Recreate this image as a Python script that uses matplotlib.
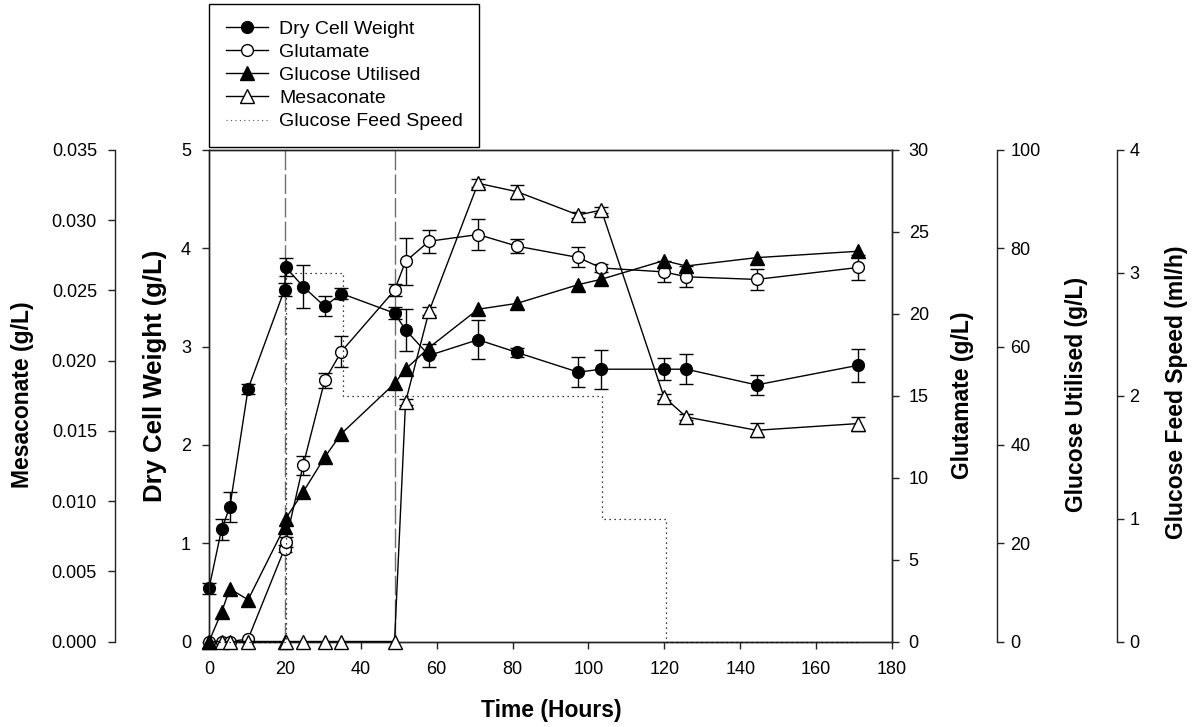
import numpy as np
import matplotlib
matplotlib.use("Agg")
from matplotlib import pyplot as plt
from matplotlib.lines import Line2D

plt.rcParams['font.family'] = ['Liberation Sans', 'DejaVu Sans']

# sampling times (hours)
time_h = [0, 3.3, 5.5, 10.3, 19.9, 20.2, 24.8, 30.5, 34.9, 48.9, 51.8, 58, 70.9, 81.2,
          97.3, 103.4, 119.9, 125.8, 144.3, 171.1]

dcw = [0.54, 1.14, 1.37, 2.57, 3.58, 3.81, 3.61, 3.41, 3.54, 3.34, 3.17, 2.91, 3.07, 2.94,
       2.74, 2.77, 2.77, 2.77, 2.61, 2.81]
dcw_err = [0.06, 0.11, 0.15, 0.05, 0.07, 0.09, 0.22, 0.10, 0.06, 0.06, 0.21, 0.12, 0.20, 0.05,
           0.15, 0.20, 0.11, 0.15, 0.10, 0.17]

glutamate = [0, 0, 0, 0.15, 5.66, 6.07, 10.75, 15.94, 17.7, 21.44, 23.2, 24.43, 24.84, 24.13,
             23.44, 22.8, 22.56, 22.26, 22.1, 22.83]
glutamate_err = [0, 0, 0, 0, 0.2, 0.3, 0.56, 0.46, 0.92, 0.36, 1.45, 0.69, 0.92, 0.44,
                 0.61, 0.25, 0.64, 0.64, 0.63, 0.78]

glucose = [0, 5.97, 10.73, 8.49, 23.28, 24.99, 30.4, 37.5, 42.3, 52.5, 55.4, 59.8, 67.6, 68.8,
           72.6, 73.7, 77.5, 76.4, 78.1, 79.4]

mesaconate = [0, 0, 0, 0, 0, 0, 0, 0, 0, 0, 0.01706, 0.02352, 0.03263, 0.03203,
              0.03037, 0.03072, 0.01741, 0.01599, 0.01504, 0.01552]
mesaconate_err = [0, 0, 0, 0, 0, 0, 0, 0, 0, 0, 0.0002, 0.0003, 0.0003, 0.0005,
                  0.0002, 0.0002, 0.0002, 0.0002, 0.0005, 0.0005]

# glucose feed (step profile)
feed_time = [0, 20.3, 35.2, 103.7, 120.4, 171]
feed_rate = [0, 3, 2, 1, 0, 0]

phase_lines = [20, 49]

W, H = 1195, 727
fig = plt.figure(figsize=(W / 100, H / 100), dpi=100)
x0, x1, ytop, ybot = 209, 892, 150, 641.5
ax = fig.add_axes([x0 / W, 1 - ybot / H, (x1 - x0) / W, (ybot - ytop) / H])
ax_glu = ax.twinx()
ax_mes = ax.twinx()
ax_gluc = ax.twinx()
ax_feed = ax.twinx()

tick_fs = 13
lab_fs = 16.5
lw = 1.0
ms_c = 8.5
ms_t = 9.5

t = np.array(time_h)


def draw(a, y, err, marker, face, ms):
    y = np.array(y)
    a.plot(t, y, color='black', lw=lw, marker=marker, ms=ms, mfc=face, mec='black',
           mew=1, clip_on=False, zorder=4)
    if err is not None:
        e = np.array(err)
        m = e > 0
        a.errorbar(t[m], y[m], yerr=e[m], fmt='none', ecolor='black', elinewidth=1,
                   capsize=5, capthick=1, clip_on=False, zorder=3)


ax_feed.plot(feed_time, feed_rate, color='black', lw=0.9, ls=(0, (1, 3)),
             drawstyle='steps-post', clip_on=False)
for xv in phase_lines:
    ax.axvline(xv, color='#6e6e6e', lw=1, dashes=(14, 3), zorder=1)

draw(ax, dcw, dcw_err, 'o', 'black', ms_c)
draw(ax_glu, glutamate, glutamate_err, 'o', 'white', ms_c)
draw(ax_gluc, glucose, None, '^', 'black', ms_t)
draw(ax_mes, mesaconate, mesaconate_err, '^', 'white', ms_t)

ax.set_xlim(0, 180)
ax.set_ylim(0, 5)
ax_glu.set_ylim(0, 30)
ax_gluc.set_ylim(0, 100)
ax_mes.set_ylim(0, 0.035)
ax_feed.set_ylim(0, 4)

ax.set_xticks(np.arange(0, 181, 20))
ax.set_yticks(np.arange(0, 6, 1))
ax_glu.set_yticks(np.arange(0, 31, 5))
ax_gluc.set_yticks(np.arange(0, 101, 20))
ax_mes.set_yticks(np.arange(0, 0.0351, 0.005))
ax_mes.set_yticklabels(['%.3f' % v for v in np.arange(0, 0.0351, 0.005)])
ax_feed.set_yticks(np.arange(0, 5, 1))

for a in [ax, ax_glu, ax_gluc, ax_mes, ax_feed]:
    for s in a.spines.values():
        s.set_linewidth(1)
        s.set_color('#222222')
    a.tick_params(direction='out', length=5, width=1, labelsize=tick_fs, color='#222222')

ax.tick_params(axis='x', pad=9)
ax.tick_params(axis='y', pad=8)
ax_glu.tick_params(axis='y', pad=7)

# extra spines
ax_mes.yaxis.set_ticks_position('left')
ax_mes.spines['left'].set_position(('axes', (115 - x0) / (x1 - x0)))
ax_mes.tick_params(axis='y', pad=8)
for side in ['right', 'top', 'bottom']:
    ax_mes.spines[side].set_visible(False)

ax_gluc.spines['right'].set_position(('axes', (996.7 - x0) / (x1 - x0)))
ax_gluc.tick_params(axis='y', pad=5)
ax_feed.spines['right'].set_position(('axes', (1116.7 - x0) / (x1 - x0)))
ax_feed.tick_params(axis='y', pad=4)
for a in [ax_gluc, ax_feed]:
    for side in ['left', 'top', 'bottom']:
        a.spines[side].set_visible(False)

# axis titles
def label(px, py, txt, rot=90, fs=lab_fs):
    fig.text(px / W, 1 - py / H, txt, rotation=rot, ha='center', va='center',
             fontsize=fs, fontweight='bold')


label(23, 395, 'Mesaconate (g/L)')
label(155, 376, 'Dry Cell Weight (g/L)', fs=18.5)
label(962, 395, 'Glutamate (g/L)')
label(1077, 394, 'Glucose Utilised (g/L)')
label(1176, 392, 'Glucose Feed Speed (ml/h)')
label(551, 711, 'Time (Hours)', rot=0)

handles = [
    Line2D([], [], color='black', lw=lw, marker='o', ms=ms_c, mfc='black', mec='black'),
    Line2D([], [], color='black', lw=lw, marker='o', ms=ms_c, mfc='white', mec='black'),
    Line2D([], [], color='black', lw=lw, marker='^', ms=ms_t, mfc='black', mec='black'),
    Line2D([], [], color='black', lw=lw, marker='^', ms=ms_t, mfc='white', mec='black'),
    Line2D([], [], color='#555555', lw=0.8, ls=(0, (1, 3))),
]
names = ['Dry Cell Weight', 'Glutamate', 'Glucose Utilised', 'Mesaconate', 'Glucose Feed Speed']
leg = fig.legend(handles, names, loc='upper left', bbox_to_anchor=(x0 / W, 1 - 4 / H),
                 bbox_transform=fig.transFigure, borderaxespad=0, fontsize=14,
                 fancybox=False, framealpha=1, edgecolor='black', handlelength=2.2,
                 handletextpad=0.55, labelspacing=0.28, borderpad=0.85, numpoints=1)
leg.get_frame().set_linewidth(1)

fig.savefig('out.png', dpi=100)
